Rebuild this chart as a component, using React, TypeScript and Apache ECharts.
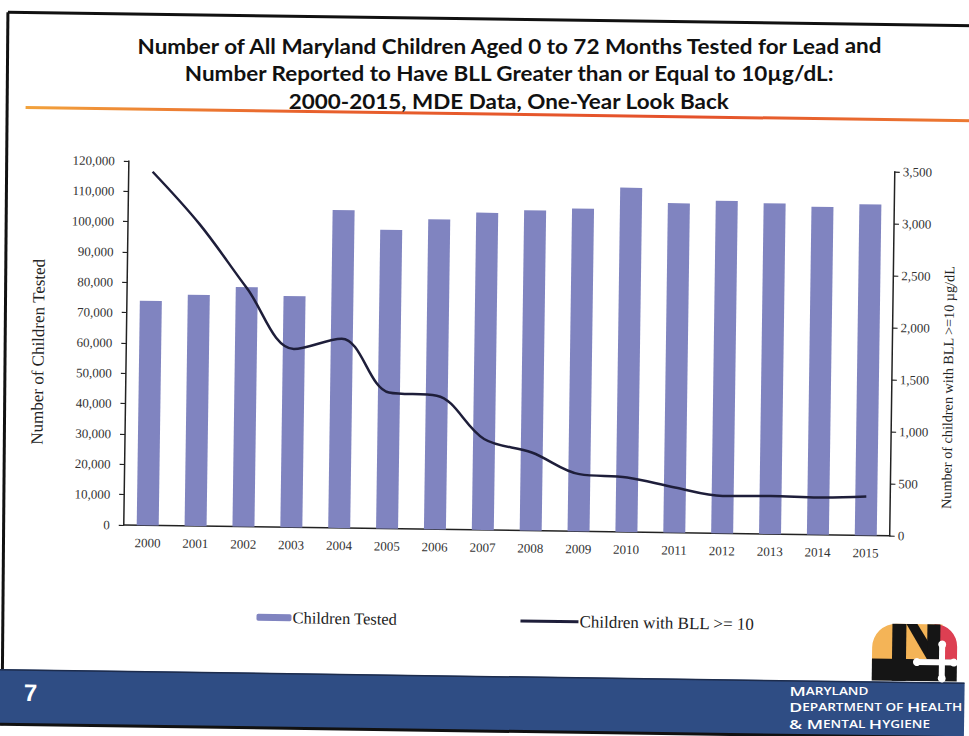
import React, { useEffect, useRef } from "react";
import * as echarts from "echarts";

const years = ["2000", "2001", "2002", "2003", "2004", "2005", "2006", "2007", "2008", "2009", "2010", "2011", "2012", "2013", "2014", "2015"];
const childrenTested = [74000, 76200, 79000, 76200, 104800, 98500, 102200, 104600, 105600, 106400, 113500, 108600, 109600, 109000, 108100, 109100];
const childrenBLL10 = [3400, 2900, 2295, 1715, 1820, 1310, 1285, 875, 752, 550, 525, 435, 360, 366, 357, 373];
const leftTickLabels = ["0", "10,000", "20,000", "30,000", "40,000", "50,000", "60,000", "70,000", "80,000", "90,000", "100,000", "110,000", "120,000"];
const rightTickLabels = ["0", "500", "1,000", "1,500", "2,000", "2,500", "3,000", "3,500"];
const titleLines = [
  "Number of All Maryland Children Aged 0 to 72 Months Tested for Lead and",
  "Number Reported to Have BLL Greater than or Equal to 10\u00b5g/dL:",
  "2000-2015, MDE Data, One-Year Look Back",
];
const seriesNames = ["Children Tested", "Children with BLL >= 10"];
const leftAxisName = "Number of Children Tested";
const rightAxisName = "Number of children with BLL >=10 \u00b5g/dL";
const slideNumber = "7";
const deptLines = [
  ["M", "ARYLAND"],
  ["D", "EPARTMENT OF ", "H", "EALTH"],
  ["& M", "ENTAL ", "H", "YGIENE"],
];

const SERIF = "'Liberation Serif', 'DejaVu Serif', serif";
const TILT_DEG = 0.8;
const UNTILT = (TILT_DEG * Math.PI) / 180;

function deptText(parts: string[]) {
  return parts.map((p, i) => (i % 2 === 0 ? `{b|${p}}` : `{s|${p}}`)).join("");
}

export default function App() {
  const ref = useRef<HTMLDivElement>(null);
  useEffect(() => {
    if (!ref.current) return;
    const chart = echarts.init(ref.current, undefined, { renderer: "svg" });
    const labelStyle = { fontFamily: SERIF, fontSize: 13, color: "#333" };
    const option: any = {
      animation: false,
      backgroundColor: "#ffffff",
      grid: { left: 126, right: 77, top: 166, bottom: 206, containLabel: false },
      legend: [
        {
          data: [seriesNames[0]],
          left: 255,
          top: 607,
          itemWidth: 35,
          itemHeight: 7,
          itemGap: 0,
          textStyle: { fontFamily: SERIF, fontSize: 16.5, color: "#222", padding: [0, 0, 0, -4] },
        },
        {
          data: [{ name: seriesNames[1], icon: "rect" }],
          left: 519,
          top: 607,
          itemWidth: 58,
          itemHeight: 3,
          itemGap: 0,
          itemStyle: { color: "#1e1e3a" },
          textStyle: { fontFamily: SERIF, fontSize: 17, color: "#222", padding: [0, 0, 0, -4] },
        },
      ],
      xAxis: {
        type: "category",
        data: years,
        axisLine: { lineStyle: { color: "#222", width: 1.5 } },
        axisTick: { show: false },
        axisLabel: { ...labelStyle, margin: 11 },
      },
      yAxis: [
        {
          type: "value",
          min: 0,
          max: 120000,
          interval: 10000,
          axisLine: { show: true, lineStyle: { color: "#222", width: 1.5 } },
          axisTick: { show: true, length: 5, lineStyle: { color: "#222", width: 1.2 } },
          splitLine: { show: false },
          axisLabel: { ...labelStyle, margin: 14, formatter: (v: number) => leftTickLabels[Math.round(v / 10000)] },
        },
        {
          type: "value",
          position: "right",
          min: 0,
          max: 3500,
          interval: 500,
          axisLine: { show: true, lineStyle: { color: "#222", width: 1.5 } },
          axisTick: { show: true, length: 5, lineStyle: { color: "#222", width: 1.2 } },
          splitLine: { show: false },
          axisLabel: { ...labelStyle, margin: 8, formatter: (v: number) => rightTickLabels[Math.round(v / 500)] },
        },
      ],
      series: [
        {
          type: "bar",
          name: seriesNames[0],
          data: childrenTested,
          barWidth: 22,
          itemStyle: { color: "#8084c0" },
        },
        {
          type: "line",
          name: seriesNames[1],
          yAxisIndex: 1,
          data: childrenBLL10,
          smooth: 0.35,
          symbol: "none",
          lineStyle: { color: "#1e1e3a", width: 2.5 },
          itemStyle: { color: "#1e1e3a" },
        },
      ],
      graphic: [
        // slide frame
        { type: "line", shape: { x1: 3, y1: 19, x2: 969, y2: 19 }, style: { stroke: "#111", lineWidth: 3 } },
        { type: "line", shape: { x1: 3, y1: 19, x2: 7, y2: 732 }, style: { stroke: "#111", lineWidth: 3 } },
        {
          type: "rect",
          shape: { x: 22, y: 112.5, width: 947, height: 3 },
          style: {
            fill: new echarts.graphic.LinearGradient(0, 0, 1, 0, [
              { offset: 0, color: "#f2a23c" },
              { offset: 0.3, color: "#e8602c" },
              { offset: 0.7, color: "#e4502a" },
              { offset: 1, color: "#ec7a32" },
            ]),
          },
        },
        // title lines
        ...titleLines.map((t, i) => ({
          type: "text",
          x: 505,
          y: 45 + i * 27.5,
          rotation: UNTILT,
          scaleX: 1.045,
          style: {
            text: t,
            fontFamily: "Lato, 'Open Sans', sans-serif",
            fontWeight: "bold",
            fontSize: 21.5,
            lineHeight: 23,
            fill: "#111",
            align: "center",
            verticalAlign: "middle",
            textAlign: "center",
            textVerticalAlign: "middle",
          },
        })),
        // axis names
        {
          type: "text",
          x: 38,
          y: 358,
          rotation: Math.PI / 2,
          style: {
            text: leftAxisName,
            fontFamily: SERIF,
            fontSize: 17,
            fill: "#222",
            align: "center",
            verticalAlign: "middle",
            textAlign: "center",
            textVerticalAlign: "middle",
          },
        },
        {
          type: "text",
          x: 948,
          y: 381,
          rotation: Math.PI / 2,
          style: {
            text: rightAxisName,
            fontFamily: SERIF,
            fontSize: 14.2,
            fill: "#222",
            align: "center",
            verticalAlign: "middle",
            textAlign: "center",
            textVerticalAlign: "middle",
          },
        },
        // bottom band
        { type: "rect", shape: { x: 4, y: 676, width: 966, height: 55 }, style: { fill: "#2f4d84" } },
        { type: "line", shape: { x1: 4, y1: 676.5, x2: 969, y2: 676.5 }, style: { stroke: "#1d2c4c", lineWidth: 1.5 } },
        { type: "line", shape: { x1: 4, y1: 731, x2: 969, y2: 731 }, style: { stroke: "#111", lineWidth: 3 } },
        {
          type: "text",
          x: 35,
          y: 699,
          style: {
            text: slideNumber,
            fontFamily: "'Liberation Sans', Arial, sans-serif",
            fontWeight: "bold",
            fontSize: 24,
            fill: "#ffffff",
            align: "center",
            verticalAlign: "middle",
            textAlign: "center",
            textVerticalAlign: "middle",
          },
        },
        ...deptLines.map((parts, i) => ({
          type: "text",
          x: 794,
          y: 686.5 + i * 16.5,
          rotation: UNTILT,
          scaleX: 1.36,
          style: {
            text: deptText(parts),
            align: "left",
            verticalAlign: "middle",
            textAlign: "left",
            textVerticalAlign: "middle",
            rich: {
              b: { fontFamily: "'Open Sans', sans-serif", fontWeight: 600, fontSize: 13, lineHeight: 13, fill: "#ffffff", color: "#ffffff" },
              s: { fontFamily: "'Open Sans', sans-serif", fontWeight: 600, fontSize: 10, lineHeight: 13, fill: "#ffffff", color: "#ffffff" },
            },
          },
        })),
        // logo
        {
          type: "group",
          x: 876,
          y: 616,
          children: [
            { type: "rect", shape: { x: 0, y: 2, width: 70, height: 40, r: [24, 0, 0, 0] }, style: { fill: "#f4b457" } },
            { type: "rect", shape: { x: 62, y: 2, width: 23, height: 40, r: [0, 22, 0, 0] }, style: { fill: "#dd3f52" } },
            { type: "rect", shape: { x: 20, y: 2, width: 14, height: 57 }, style: { fill: "#151515" } },
            { type: "polygon", shape: { points: [[34, 2], [45, 2], [67, 37], [55, 37]] }, style: { fill: "#151515" } },
            { type: "rect", shape: { x: 55, y: 2, width: 13, height: 35 }, style: { fill: "#151515" } },
            { type: "rect", shape: { x: 0, y: 37, width: 85, height: 22 }, style: { fill: "#151515" } },
            { type: "rect", shape: { x: 67, y: 22, width: 6, height: 36 }, style: { fill: "#ffffff" } },
            { type: "rect", shape: { x: 44, y: 37, width: 40, height: 6 }, style: { fill: "#ffffff" } },
            { type: "circle", shape: { cx: 70, cy: 22, r: 4 }, style: { fill: "#ffffff" } },
            { type: "circle", shape: { cx: 70, cy: 56, r: 4 }, style: { fill: "#ffffff" } },
            { type: "circle", shape: { cx: 45, cy: 40, r: 4 }, style: { fill: "#ffffff" } },
            { type: "circle", shape: { cx: 82, cy: 40, r: 4 }, style: { fill: "#ffffff" } },
          ],
        },
      ],
    };
    chart.setOption(option);
    return () => chart.dispose();
  }, []);
  return (
    <div
      ref={ref}
      style={{
        position: "absolute",
        left: 0,
        top: 0,
        width: 969,
        height: 736,
        background: "#ffffff",
        transform: `rotate(${TILT_DEG}deg)`,
        transformOrigin: "50% 50%",
      }}
    />
  );
}
